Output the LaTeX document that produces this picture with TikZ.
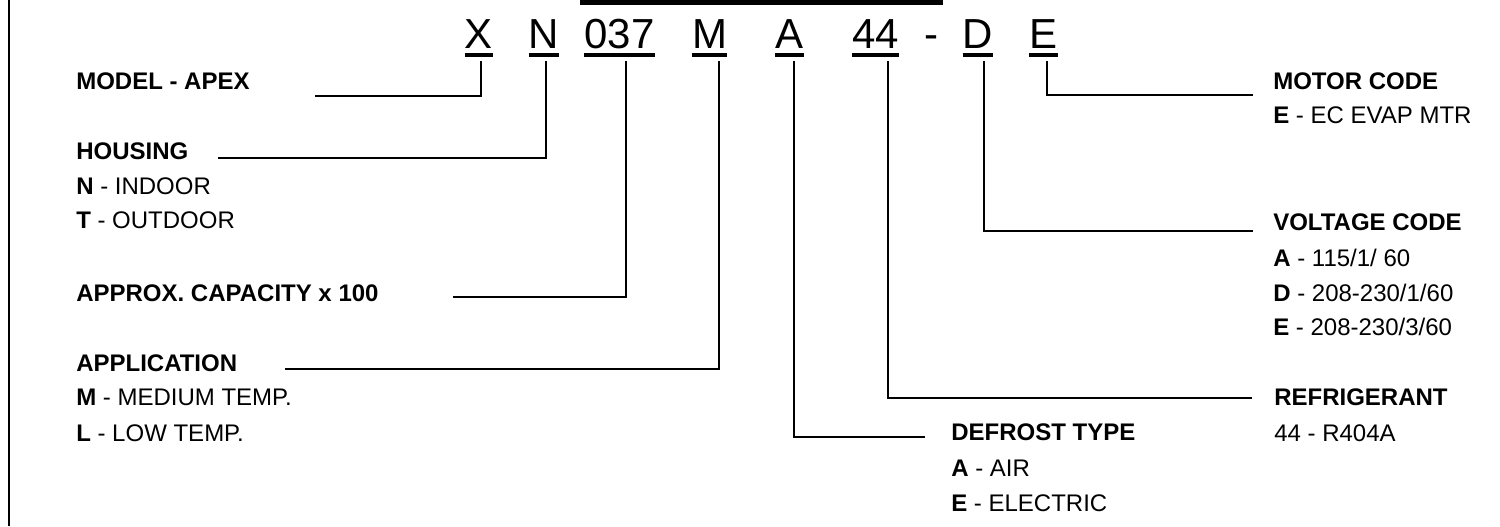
\documentclass[tikz,border=0pt]{standalone}
\usepackage{fontspec}
\setmainfont{Liberation Sans}

\tikzstyle{codeChar} = [anchor=base, inner sep=0pt, font=\fontsize{31.5}{36}\selectfont]
\tikzstyle{hdLabel} = [anchor=base west, inner sep=0pt, font=\fontsize{18}{21}\selectfont\bfseries]
\tikzstyle{optLabel} = [anchor=base west, inner sep=0pt, font=\fontsize{18}{21}\selectfont]
\tikzstyle{underBar} = [line width=3pt]
\tikzstyle{leaderLine} = [line width=1.2pt]

\begin{document}
\begin{tikzpicture}[x=0.75pt,y=-0.75pt]
  \useasboundingbox (0,0) rectangle (1500,526);
  \draw [line width=1.6pt] (9,0) -- (9,526);
  \fill (580,0) rectangle (943,5);

  \node (codeX)[codeChar] at (479,48) {X};
  \node (codeN)[codeChar] at (544,48) {N};
  \node (codeCap)[codeChar] at (619.5,48) {037};
  \node (codeM)[codeChar] at (709.5,48) {M};
  \node (codeA)[codeChar] at (789.5,48) {A};
  \node (codeRef)[codeChar] at (875.5,48) {44};
  \node (codeDash)[codeChar] at (931,48) {-};
  \node (codeD)[codeChar] at (978,48) {D};
  \node (codeE)[codeChar] at (1043.5,48) {E};

  \foreach \c in {codeX,codeN,codeCap,codeM,codeA,codeRef,codeD,codeE}
    \draw [underBar] ([yshift=-5.25pt]\c.base west) -- ([yshift=-5.25pt]\c.base east);

  \node (model)[hdLabel] at (76,89) {MODEL - APEX};
  \node (housing)[hdLabel] at (76,159) {HOUSING};
  \node (indoor)[optLabel] at ([yshift=-26.25pt]housing.base west) {\textbf{N} - INDOOR};
  \node (outdoor)[optLabel] at ([yshift=-25.5pt]indoor.base west) {\textbf{T} - OUTDOOR};
  \node (capacity)[hdLabel] at (76,301) {APPROX. CAPACITY x 100};
  \node (application)[hdLabel] at (76,371) {APPLICATION};
  \node (medium)[optLabel] at ([yshift=-25.5pt]application.base west) {\textbf{M} - MEDIUM TEMP.};
  \node (low)[optLabel] at ([yshift=-27pt]medium.base west) {\textbf{L} - LOW TEMP.};

  \node (defrost)[hdLabel] at (951,440) {DEFROST TYPE};
  \node (air)[optLabel] at ([yshift=-27pt]defrost.base west) {\textbf{A} - AIR};
  \node (electric)[optLabel] at ([yshift=-26.25pt]air.base west) {\textbf{E} - ELECTRIC};

  \node (refrigerant)[hdLabel] at (1274,405) {REFRIGERANT};
  \node (r404)[optLabel] at ([yshift=-27pt]refrigerant.base west) {44 - R404A};

  \node (voltage)[hdLabel] at (1273,230) {VOLTAGE CODE};
  \node (volt1)[optLabel] at ([yshift=-27pt]voltage.base west) {\textbf{A} - 115/1/ 60};
  \node (volt2)[optLabel] at ([yshift=-26.25pt]volt1.base west) {\textbf{D} - 208-230/1/60};
  \node (volt3)[optLabel] at ([yshift=-25.5pt]volt2.base west) {\textbf{E} - 208-230/3/60};

  \node (motor)[hdLabel] at (1273,89) {MOTOR CODE};
  \node (motorE)[optLabel] at ([yshift=-25.5pt]motor.base west) {\textbf{E} - EC EVAP MTR};

  \coordinate (modelEnd) at (315,96);
  \coordinate (housingEnd) at (218,158);
  \coordinate (capEnd) at (453,297);
  \coordinate (appEnd) at (285,369);
  \coordinate (defrostEnd) at (925,437);
  \coordinate (refEnd) at (1252,398);
  \coordinate (voltEnd) at (1253,231);
  \coordinate (motorEnd) at (1253,95);

  \draw [leaderLine] ([xshift=1.5pt,yshift=-9.75pt]codeX.base) |- (modelEnd);
  \draw [leaderLine] ([xshift=1.5pt,yshift=-9.75pt]codeN.base) |- (housingEnd);
  \draw [leaderLine] ([xshift=4.9pt,yshift=-9.75pt]codeCap.base) |- (capEnd);
  \draw [leaderLine] ([xshift=7.1pt,yshift=-9.75pt]codeM.base) |- (appEnd);
  \draw [leaderLine] ([xshift=3.4pt,yshift=-9.75pt]codeA.base) |- (defrostEnd);
  \draw [leaderLine] ([xshift=9.4pt,yshift=-9.75pt]codeRef.base) |- (refEnd);
  \draw [leaderLine] ([xshift=4.5pt,yshift=-9.75pt]codeD.base) |- (voltEnd);
  \draw [leaderLine] ([xshift=2.6pt,yshift=-9.75pt]codeE.base) |- (motorEnd);
\end{tikzpicture}
\end{document}
